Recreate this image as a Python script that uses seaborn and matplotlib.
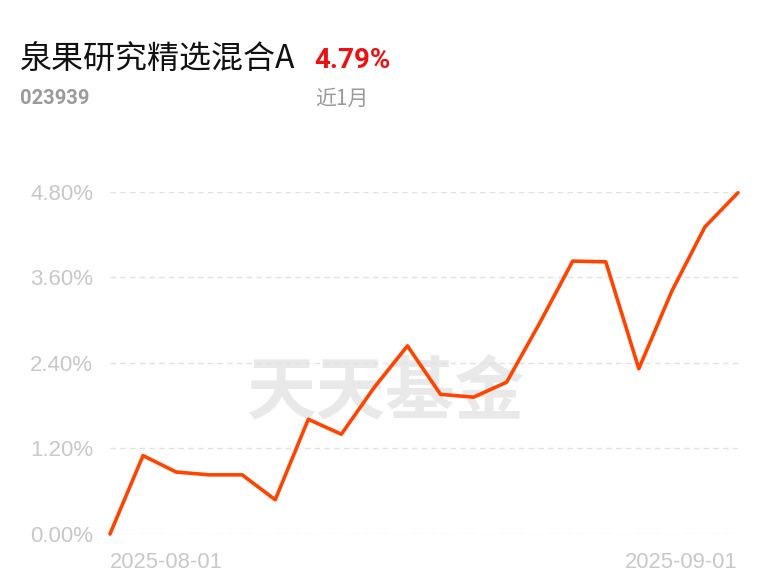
import pandas as pd
import matplotlib.pyplot as plt
import seaborn as sns

# 近1月 收益率走势 (%)
dates = ["2025-08-01", "2025-08-04", "2025-08-05", "2025-08-06", "2025-08-07",
         "2025-08-08", "2025-08-11", "2025-08-12", "2025-08-13", "2025-08-14",
         "2025-08-15", "2025-08-18", "2025-08-19", "2025-08-20", "2025-08-21",
         "2025-08-22", "2025-08-25", "2025-08-26", "2025-08-28", "2025-09-01"]
returns = [0.00, 1.10, 0.87, 0.83, 0.83, 0.48, 1.61, 1.40, 2.06, 2.64,
           1.96, 1.92, 2.13, 2.96, 3.83, 3.82, 2.32, 3.41, 4.31, 4.79]
y_ticks = [0.0, 1.2, 2.4, 3.6, 4.8]
x_labels = ["2025-08-01", "2025-09-01"]

fund_name = "泉果研究精选混合A"
fund_code = "023939"
period_label = "近1月"
period_return = "4.79%"

df = pd.DataFrame({"idx": range(len(dates)), "date": dates, "ret": returns})

sns.set_theme(style="white")
plt.rcParams["font.family"] = ["Noto Sans CJK SC", "DejaVu Sans"]

fig = plt.figure(figsize=(7.68, 5.85), dpi=100)
ax = fig.add_axes([0.1432, 0.0872, 0.8177, 0.5846])

tick_col = "#c8c8c8"

# watermark
ax.text(0.44, 0.41, "天天基金", transform=ax.transAxes, ha="center", va="center",
        fontsize=50, fontweight="bold", color="#e9e9e9", zorder=0,
        family=["Noto Sans CJK SC"])

for v in y_ticks:
    ax.axhline(v, color="#e2e2e2", lw=1, ls=(0, (4, 3)), zorder=1)

sns.lineplot(data=df, x="idx", y="ret", ax=ax, color="#ff4400", lw=2.6,
             zorder=3, clip_on=False)

ax.set_xlim(0, len(dates) - 1)
ax.set_ylim(0, 4.8)
ax.set_yticks(y_ticks)
ax.set_yticklabels([f"{v:.2f}%" for v in y_ticks], color=tick_col, fontsize=16,
                   family=["Liberation Sans"])
ax.set_xticks([0, len(dates) - 1])
ax.set_xticklabels(x_labels, color=tick_col, fontsize=15.8,
                   family=["Liberation Sans"])
lbls = ax.get_xticklabels()
lbls[0].set_ha("left")
lbls[1].set_ha("right")
ax.tick_params(axis="y", length=0, pad=12)
ax.tick_params(axis="x", length=0, pad=13)
ax.set_xlabel("")
ax.set_ylabel("")
for s in ax.spines.values():
    s.set_visible(False)

# header
fig.text(20 / 768, 1 - 60 / 585, fund_name, fontsize=23, color="#111111",
         ha="left", va="center")
fig.text(314 / 768, 1 - 60 / 585, period_return, fontsize=20, fontweight="bold",
         color="#ee1111", ha="left", va="center", family=["Roboto", "DejaVu Sans"])
fig.text(20 / 768, 1 - 98 / 585, fund_code, fontsize=14.5, fontweight="bold",
         color="#9a9a9a", ha="left", va="center", family=["Roboto", "DejaVu Sans"])
fig.text(315 / 768, 1 - 99 / 585, period_label, fontsize=15, color="#9a9a9a",
         ha="left", va="center")

fig.savefig("out.png", dpi=100, facecolor="white")
